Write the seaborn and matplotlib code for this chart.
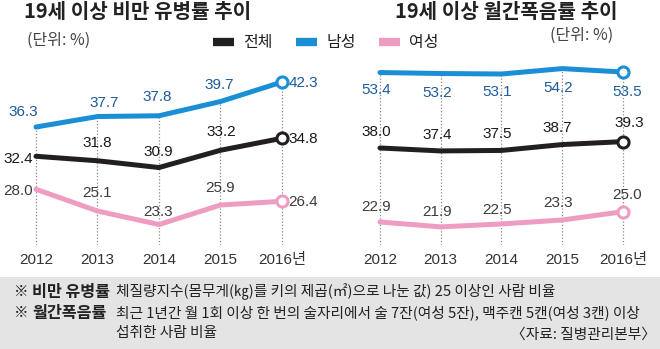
import matplotlib
matplotlib.use("Agg")
import matplotlib.pyplot as plt
from matplotlib.patches import Rectangle
import pandas as pd
import seaborn as sns

# ---- data -------------------------------------------------------------
years = [2012, 2013, 2014, 2015, 2016]
year_labels = ["2012", "2013", "2014", "2015", "2016년"]
groups = ["전체", "남성", "여성"]

obesity_total = [32.4, 31.8, 30.9, 33.2, 34.8]
obesity_male = [36.3, 37.7, 37.8, 39.7, 42.3]
obesity_female = [28.0, 25.1, 23.3, 25.9, 26.4]

binge_total = [38.0, 37.4, 37.5, 38.7, 39.3]
binge_male = [53.4, 53.2, 53.1, 54.2, 53.5]
binge_female = [22.9, 21.9, 22.5, 23.3, 25.0]

title_left = "19세 이상 비만 유병률 추이"
title_right = "19세 이상 월간폭음률 추이"
unit_text = "(단위: %)"

# ---- style ------------------------------------------------------------
sns.set_theme(style="white")
plt.rcParams["font.family"] = ["Noto Sans CJK KR", "DejaVu Sans"]
NUM_FONT = ["Liberation Sans Narrow", "Liberation Sans", "Noto Sans CJK KR"]

palette = {"전체": "#231f20", "남성": "#1a8fd6", "여성": "#ee9cc2"}
label_colors = {"전체": "#1a1a1a", "남성": "#1d5b9c", "여성": "#3c3c3c"}

W, H = 660, 349
fig = plt.figure(figsize=(W / 100, H / 100), dpi=100)
fig.patch.set_facecolor("white")


def px_axes(x0, y0, x1, y1):
    return fig.add_axes([x0 / W, 1 - y1 / H, (x1 - x0) / W, (y1 - y0) / H])


def make_frame(total, male, female):
    return pd.DataFrame({
        "연도": years * 3,
        "값": total + male + female,
        "구분": ["전체"] * 5 + ["남성"] * 5 + ["여성"] * 5,
    })


# label offsets in pixels, per series
left_offsets = {
    "남성": [(-13, 15), (7, 13.5), (-1.5, 19), (-1, 16.5), (21, -1)],
    "전체": [(-18, -3), (0, 18), (-1, 15.5), (1, 18), (21, -1)],
    "여성": [(-18, -2), (0, 18), (-1, 12.5), (0, 17), (21, -1)],
}
right_offsets = {
    "남성": [(-4, -17.5), (-4, -19.5), (-4, -18), (-4.5, -19.5), (4.5, -20)],
    "전체": [(-4, 16), (-4, 16), (-4, 16.5), (-5, 16.6), (6, 18.6)],
    "여성": [(-4, 15), (-4, 15), (-4, 14), (-4, 17), (4, 16.7)],
}


def draw_panel(ax, total, male, female, xlim, ylim, offsets, legend):
    df = make_frame(total, male, female)
    ax.vlines(years, ylim[0], male, colors="#8a8a8a",
              linestyles=(0, (1, 1.6)), linewidth=0.9, zorder=1)
    sns.lineplot(data=df, x="연도", y="값", hue="구분", hue_order=groups,
                 palette=palette, linewidth=3.6, ax=ax, legend=legend,
                 zorder=3)
    for line in ax.lines:
        line.set_solid_capstyle("round")
        line.set_solid_joinstyle("round")
    series = {"전체": total, "남성": male, "여성": female}
    for g in groups:
        vals = series[g]
        ax.plot(years[-1], vals[-1], "o", ms=8, mfc="white",
                mec=palette[g], mew=2.2, zorder=4)
        for x, v, (dx, dy) in zip(years, vals, offsets[g]):
            ax.annotate(f"{v:.1f}", (x, v), xytext=(dx, dy),
                        textcoords="offset pixels", ha="center", va="center",
                        fontsize=11, color=label_colors[g], family=NUM_FONT,
                        zorder=5)
    ax.set_xlim(*xlim)
    ax.set_ylim(*ylim)
    ax.set_xticks(years)
    ax.set_xticklabels(year_labels, family=NUM_FONT, fontsize=11,
                       color="#333333")
    ax.tick_params(axis="x", length=0, pad=6)
    ax.set_yticks([])
    ax.set_xlabel("")
    ax.set_ylabel("")
    for s in ax.spines.values():
        s.set_visible(False)
    ax.patch.set_alpha(0)


ax_l = px_axes(20, 62, 300, 245)
draw_panel(ax_l, obesity_total, obesity_male, obesity_female,
           (2011.740, 2016.293), (20.57, 44.97), left_offsets, True)
handles, labels = ax_l.get_legend_handles_labels()
ax_l.get_legend().remove()

ax_r = px_axes(360, 62, 645, 245)
draw_panel(ax_r, binge_total, binge_male, binge_female,
           (2011.671, 2016.362), (18.2, 55.55), right_offsets, False)

# legend across the top
for h in handles:
    h.set_linewidth(6)
    h.set_solid_capstyle("butt")
leg = fig.legend(handles, labels, loc="center", ncol=3,
                 bbox_to_anchor=(326 / W, 1 - 43 / H), frameon=False,
                 fontsize=11.5, handlelength=1.3, handletextpad=0.55,
                 columnspacing=1.5)
for t in leg.get_texts():
    t.set_color("#222222")


def ftext(x, y, s, **kw):
    return fig.text(x / W, 1 - y / H, s, **kw)


# titles and units
ftext(138, 11, title_left, ha="center", va="center", fontsize=14.5,
      fontweight="bold", color="#222222")
ftext(506, 11, title_right, ha="center", va="center", fontsize=14.5,
      fontweight="bold", color="#222222")
ftext(27, 40, unit_text, ha="left", va="center", fontsize=11.5,
      color="#444444")
ftext(613, 35, unit_text, ha="right", va="center", fontsize=11.5,
      color="#444444")

# footnote box
fig.add_artist(Rectangle((0, 0), 1, (H - 277) / H, transform=fig.transFigure,
                         facecolor="#e4e4e4", edgecolor="none", zorder=0))

note_kw = dict(ha="left", va="center", color="#222222")
ftext(14, 292, "※", fontsize=10.5, **note_kw)
ftext(32, 292, "비만 유병률", fontsize=11.7, fontweight="bold", **note_kw)
ftext(116, 292, "체질량지수(몸무게(㎏)를 키의 제곱(㎡)으로 나눈 값) 25 이상인 사람 비율",
      fontsize=10.6, **note_kw)
ftext(14, 313, "※", fontsize=10.5, **note_kw)
ftext(32, 313, "월간폭음률", fontsize=11.7, fontweight="bold", **note_kw)
ftext(116, 313, "최근 1년간 월 1회 이상 한 번의 술자리에서 술 7잔(여성 5잔), 맥주캔 5캔(여성 3캔) 이상",
      fontsize=10.6, **note_kw)
ftext(116, 333, "섭취한 사람 비율", fontsize=10.6, **note_kw)
ftext(656, 335, "〈자료: 질병관리본부〉", ha="right", va="center",
      fontsize=10.6, color="#222222")

fig.savefig("out.png", dpi=100, facecolor="white")
